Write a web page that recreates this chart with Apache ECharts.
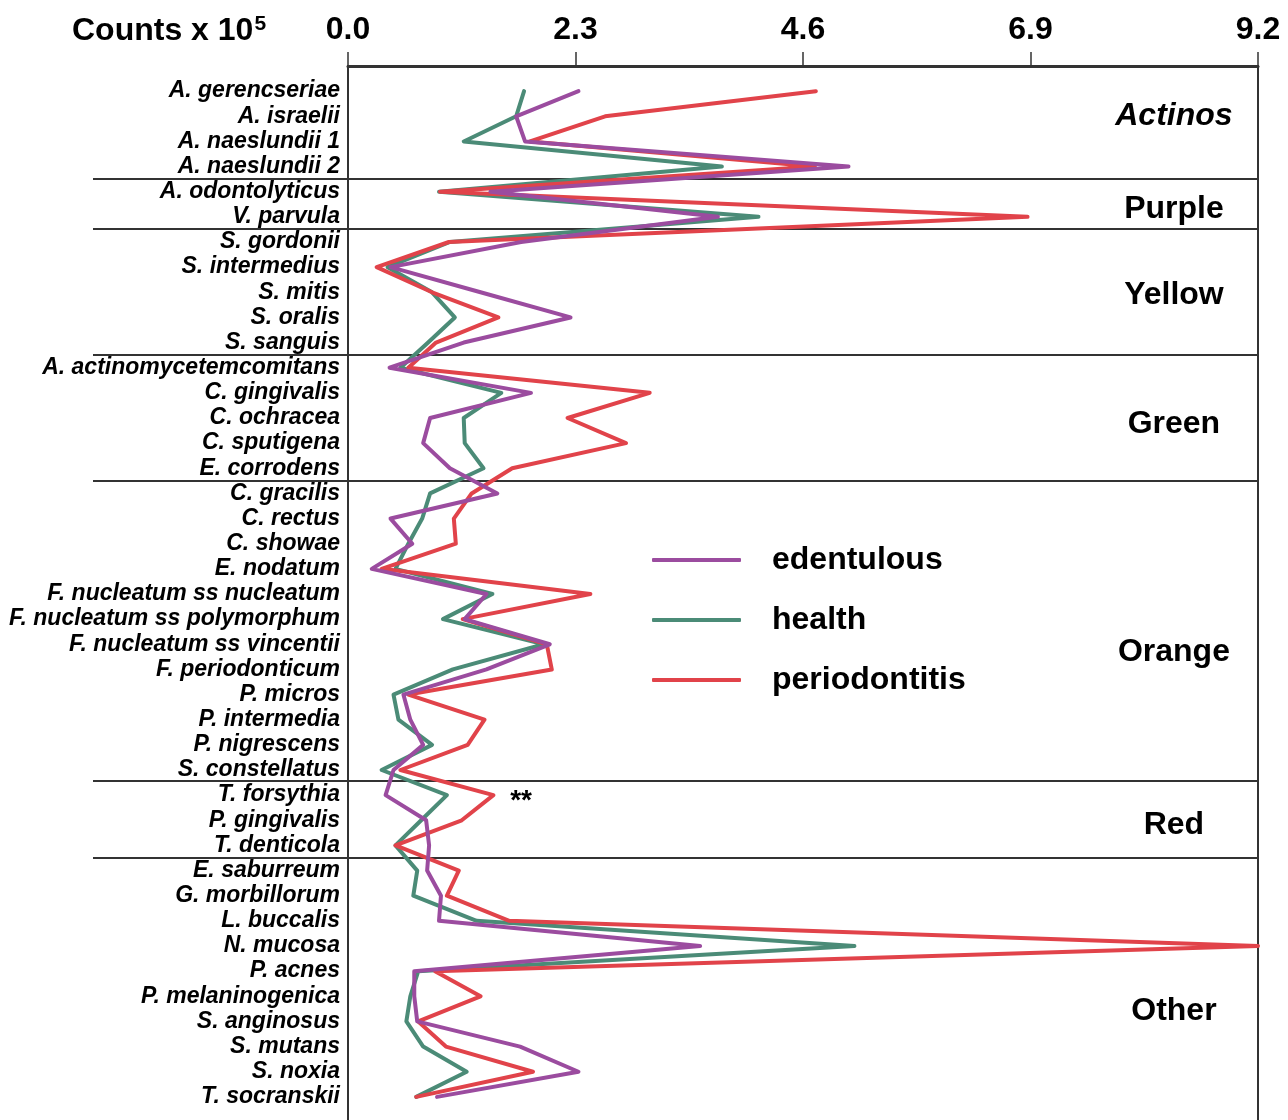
<!DOCTYPE html>
<html>
<head>
<meta charset="utf-8">
<script src="https://cdn.jsdelivr.net/npm/echarts@6/dist/echarts.min.js"></script>
<style>
  html, body { margin: 0; padding: 0; background: #ffffff; overflow: hidden; }
  #chart { width: 1288px; height: 1124px; }
</style>
</head>
<body>
<div id="chart"></div>
<script>
// species, top to bottom
var species = [
  "A. gerencseriae", "A. israelii", "A. naeslundii 1", "A. naeslundii 2",
  "A. odontolyticus", "V. parvula",
  "S. gordonii", "S. intermedius", "S. mitis", "S. oralis", "S. sanguis",
  "A. actinomycetemcomitans", "C. gingivalis", "C. ochracea", "C. sputigena", "E. corrodens",
  "C. gracilis", "C. rectus", "C. showae", "E. nodatum", "F. nucleatum ss nucleatum",
  "F. nucleatum ss polymorphum", "F. nucleatum ss vincentii", "F. periodonticum", "P. micros",
  "P. intermedia", "P. nigrescens", "S. constellatus",
  "T. forsythia", "P. gingivalis", "T. denticola",
  "E. saburreum", "G. morbillorum", "L. buccalis", "N. mucosa", "P. acnes",
  "P. melaninogenica", "S. anginosus", "S. mutans", "S. noxia", "T. socranskii"
];

// counts x 10^5
var edentulous = [
  2.33, 1.70, 1.79, 5.06, 1.44, 3.74, 1.75, 0.43, 1.34, 2.25, 1.17,
  0.42, 1.85, 0.83, 0.76, 1.03, 1.51, 0.43, 0.65, 0.24, 1.40, 1.18,
  2.04, 1.40, 0.56, 0.63, 0.76, 0.46, 0.38, 0.79, 0.82, 0.80, 0.94,
  0.92, 3.56, 0.67, 0.67, 0.70, 1.74, 2.33, 0.90
];
var health = [
  1.78, 1.70, 1.17, 3.78, 0.92, 4.15, 1.03, 0.40, 0.85, 1.08, 0.81,
  0.53, 1.55, 1.17, 1.18, 1.37, 0.83, 0.75, 0.61, 0.48, 1.46, 0.96,
  1.98, 1.06, 0.46, 0.51, 0.85, 0.34, 1.00, 0.74, 0.48, 0.70, 0.66,
  1.30, 5.12, 0.71, 0.63, 0.59, 0.76, 1.20, 0.69
];
var periodontitis = [
  4.73, 2.60, 1.84, 4.72, 0.93, 6.87, 1.02, 0.29, 0.85, 1.52, 0.89,
  0.61, 3.05, 2.22, 2.81, 1.66, 1.25, 1.07, 1.09, 0.34, 2.45, 1.16,
  2.01, 2.06, 0.61, 1.38, 1.21, 0.53, 1.47, 1.15, 0.48, 1.12, 1.00,
  1.63, 9.20, 0.88, 1.34, 0.71, 0.99, 1.87, 0.69
];

var xTicks = [0, 2.3, 4.6, 6.9, 9.2];

// complex groups: name, label row, and the row boundary under each group
var groupNames = ["Actinos", "Purple", "Yellow", "Green", "Orange", "Red", "Other"];
var groupLabelRows = [1.98, 5.7, 9.1, 14.25, 23.3, 30.2, 37.6];
var groupBreaks = [4.5, 6.5, 11.5, 16.5, 28.45, 31.5];

var FONT = "Liberation Sans, Arial, Helvetica, sans-serif";

function toPairs(values) {
  return values.map(function (v, i) { return [v, i + 1]; });
}

var chart = echarts.init(document.getElementById("chart"));

chart.setOption({
  animation: false,
  backgroundColor: "#ffffff",
  textStyle: { fontFamily: FONT },
  title: {
    text: "{b|Counts x 10}{sup|5}",
    left: 67,
    top: 9,
    textStyle: {
      rich: {
        b: { fontSize: 32, fontWeight: "bold", color: "#000", fontFamily: FONT },
        sup: { fontSize: 21, fontWeight: "bold", color: "#000", fontFamily: FONT, verticalAlign: "top", padding: [0, 0, 14, 1] }
      }
    }
  },
  legend: {
    orient: "vertical",
    left: 647,
    top: 539,
    itemGap: 28,
    itemWidth: 89,
    itemHeight: 4,
    icon: "roundRect",
    data: ["edentulous", "health", "periodontitis"],
    textStyle: {
      fontSize: 32,
      fontWeight: "bold",
      color: "#000",
      fontFamily: FONT,
      padding: [0, 0, 0, 26]
    }
  },
  grid: {
    left: 348,
    right: 30,
    top: 66,
    bottom: 2,
    show: true,
    borderColor: "#333",
    borderWidth: 2
  },
  xAxis: {
    type: "value",
    position: "top",
    min: 0,
    max: 9.2,
    interval: 2.3,
    axisLine: { show: true, lineStyle: { color: "#333", width: 3 } },
    axisTick: { show: true, inside: false, length: 14, lineStyle: { color: "#333", width: 1.5 } },
    splitLine: { show: false },
    axisLabel: {
      margin: 20,
      fontSize: 32,
      fontWeight: "bold",
      color: "#000",
      fontFamily: FONT,
      formatter: function (v) { return v.toFixed(1); }
    }
  },
  yAxis: {
    type: "value",
    inverse: true,
    min: 0,
    max: 42,
    interval: 1,
    axisLine: { show: false },
    axisTick: { show: false },
    splitLine: { show: false },
    axisLabel: {
      margin: 8,
      fontSize: 23,
      fontWeight: "bold",
      fontStyle: "italic",
      color: "#000",
      fontFamily: FONT,
      padding: [4, 0, 0, 0],
      formatter: function (v) {
        var i = Math.round(v);
        return (Math.abs(v - i) < 1e-6 && i >= 1 && i <= species.length) ? species[i - 1] : "";
      }
    }
  },
  series: [
    {
      name: "health",
      type: "line",
      data: toPairs(health),
      showSymbol: false,
      symbol: "none",
      color: "#4b8b77",
      lineStyle: { width: 4, color: "#4b8b77", cap: "round", join: "round" },
      z: 2
    },
    {
      name: "periodontitis",
      type: "line",
      data: toPairs(periodontitis),
      showSymbol: false,
      symbol: "none",
      color: "#e1434a",
      lineStyle: { width: 4, color: "#e1434a", cap: "round", join: "round" },
      z: 3,
      markPoint: {
        symbol: "circle",
        symbolSize: 0,
        label: { show: true, position: "inside", fontSize: 28, fontWeight: "bold", color: "#000", fontFamily: FONT, formatter: "**" },
        data: [{ coord: [1.75, 29.25] }]
      }
    },
    {
      name: "edentulous",
      type: "line",
      data: toPairs(edentulous),
      showSymbol: false,
      symbol: "none",
      color: "#9b4c9f",
      lineStyle: { width: 4, color: "#9b4c9f", cap: "round", join: "round" },
      z: 4,
      markPoint: {
        symbol: "circle",
        symbolSize: 0,
        label: {
          show: true,
          position: "inside",
          fontSize: 32,
          fontWeight: "bold",
          color: "#000",
          fontFamily: FONT,
          formatter: function (p) { return p.name; }
        },
        data: groupNames.map(function (g, i) {
          return {
            name: g,
            coord: [8.35, groupLabelRows[i]],
            label: { fontStyle: i === 0 ? "italic" : "normal" }
          };
        })
      }
    }
  ]
});

// separators between complexes, running under the species names
var xEnd = chart.convertToPixel({ gridIndex: 0 }, [xTicks[xTicks.length - 1], 0])[0];
chart.setOption({
  graphic: groupBreaks.map(function (b) {
    var y = Math.round(chart.convertToPixel({ gridIndex: 0 }, [0, b])[1]);
    return {
      type: "line",
      shape: { x1: 93, y1: y, x2: xEnd, y2: y },
      style: { stroke: "#333", lineWidth: 2 },
      z: 1
    };
  })
});
</script>
</body>
</html>
